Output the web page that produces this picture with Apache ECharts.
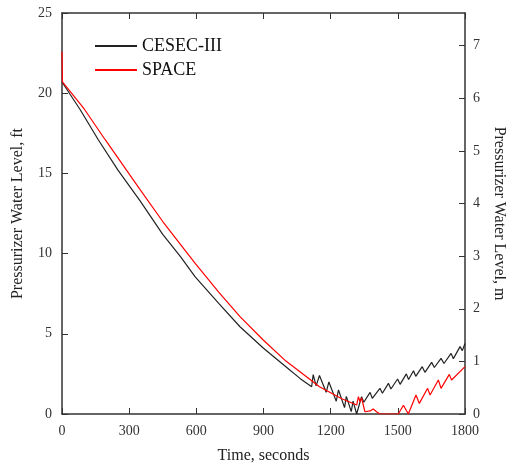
<!DOCTYPE html>
<html>
<head>
<meta charset="utf-8">
<script src="https://cdn.jsdelivr.net/npm/echarts@6/dist/echarts.min.js"></script>
<style>
  html, body { margin: 0; padding: 0; background: #fff; }
  #chart { width: 506px; height: 469px; }
</style>
</head>
<body>
<div id="chart"></div>
<script>
// CESEC-III : time (s) / level (ft)
var cesecTime = [0, 80, 162, 250, 348, 450, 530, 594, 700, 795, 900, 1000, 1063, 1115,
  1122, 1135, 1150, 1180, 1192, 1225, 1235, 1262, 1270, 1292, 1300, 1316,
  1338, 1348, 1376, 1386, 1420, 1431, 1458, 1469, 1499, 1510, 1538, 1548,
  1570, 1580, 1609, 1621, 1651, 1663, 1693, 1706, 1738, 1748, 1778, 1788, 1800];
var cesecLevel = [20.7, 19.0, 17.1, 15.2, 13.3, 11.2, 9.8, 8.56, 6.9, 5.44, 4.1, 2.95, 2.22, 1.7,
  2.45, 1.75, 2.4, 1.35, 2.0, 0.8, 1.5, 0.4, 1.1, 0.15, 0.8, 0.0,
  1.08, 0.73, 1.35, 0.98, 1.6, 1.29, 1.91, 1.56, 2.18, 1.85, 2.5, 2.15,
  2.7, 2.35, 2.95, 2.6, 3.22, 2.9, 3.47, 3.15, 3.78, 3.45, 4.2, 3.95, 4.4];

// SPACE : time (s) / level (ft)
var spaceTime = [0, 2, 100, 193, 348, 450, 594, 700, 795, 900, 1000, 1063, 1150, 1250, 1316,
  1324, 1331, 1338, 1353, 1376, 1390, 1405, 1420, 1502, 1525, 1547,
  1581, 1596, 1633, 1644, 1681, 1693, 1730, 1740, 1800];
var spaceLevel = [22.6, 20.7, 19.0, 17.1, 14.0, 12.0, 9.4, 7.6, 6.07, 4.6, 3.3, 2.64, 1.7, 0.95, 0.56,
  1.08, 0.75, 1.0, 0.14, 0.19, 0.31, 0.14, 0.0, 0.0, 0.55, 0.0,
  1.18, 0.66, 1.6, 1.18, 2.12, 1.6, 2.47, 2.12, 2.95];

function pairs(xs, ys) {
  var out = [];
  for (var i = 0; i < xs.length; i++) out.push([xs[i], ys[i]]);
  return out;
}

var serif = "'Liberation Serif', 'Times New Roman', serif";
var axisColor = '#333';
var plain = function (v) { return String(v); };

var chart = echarts.init(document.getElementById('chart'));
var option = {
  animation: false,
  textStyle: { fontFamily: serif },
  grid: { left: 62, right: 41, top: 13, bottom: 55, outerBoundsMode: 'none', containLabel: false },
  legend: {
    left: 90, top: 32, orient: 'vertical',
    itemWidth: 42, itemHeight: 2, itemGap: 6,
    icon: 'rect',
    textStyle: { fontFamily: serif, fontSize: 18, color: '#111' },
    data: ['CESEC-III', 'SPACE']
  },
  xAxis: [{
    type: 'value', min: 0, max: 1800, interval: 300, position: 'bottom',
    name: 'Time, seconds', nameLocation: 'middle', nameGap: 34,
    nameTextStyle: { fontFamily: serif, fontSize: 16, color: '#222' },
    axisLine: { onZero: false, lineStyle: { color: axisColor, width: 1.5 } },
    axisTick: { inside: true, length: 6, lineStyle: { color: axisColor } },
    axisLabel: { fontFamily: serif, fontSize: 14, color: '#333', margin: 10, formatter: plain },
    splitLine: { show: false }
  }, {
    type: 'value', min: 0, max: 1800, interval: 300, position: 'top',
    axisLine: { onZero: false, lineStyle: { color: axisColor, width: 1.5 } },
    axisTick: { inside: true, length: 6, lineStyle: { color: axisColor } },
    axisLabel: { show: false },
    splitLine: { show: false }
  }],
  yAxis: [{
    type: 'value', min: 0, max: 25, interval: 5, position: 'left',
    name: 'Pressurizer Water Level, ft', nameLocation: 'middle', nameGap: 36,
    nameTextStyle: { fontFamily: serif, fontSize: 16, color: '#222' },
    axisLine: { show: true, onZero: false, lineStyle: { color: axisColor, width: 1.5 } },
    axisTick: { show: true, inside: true, length: 6, lineStyle: { color: axisColor } },
    axisLabel: { fontFamily: serif, fontSize: 14, color: '#333', margin: 10, formatter: plain },
    splitLine: { show: false }
  }, {
    type: 'value', min: 0, max: 7.62, interval: 1, position: 'right',
    name: 'Pressurizer Water Level, m', nameLocation: 'middle', nameGap: 24, nameRotate: -90,
    nameTextStyle: { fontFamily: serif, fontSize: 16, color: '#222' },
    axisLine: { show: true, onZero: false, lineStyle: { color: axisColor, width: 1.5 } },
    axisTick: { show: true, inside: true, length: 6, lineStyle: { color: axisColor } },
    axisLabel: { fontFamily: serif, fontSize: 14, color: '#333', margin: 8, showMaxLabel: false, formatter: plain },
    splitLine: { show: false }
  }],
  series: [{
    name: 'CESEC-III', type: 'line', xAxisIndex: 0, yAxisIndex: 0,
    showSymbol: false, symbol: 'none',
    lineStyle: { color: '#222', width: 1.2 }, itemStyle: { color: '#222' },
    data: pairs(cesecTime, cesecLevel)
  }, {
    name: 'SPACE', type: 'line', xAxisIndex: 0, yAxisIndex: 0,
    showSymbol: false, symbol: 'none',
    lineStyle: { color: '#ff0000', width: 1.2 }, itemStyle: { color: '#ff0000' },
    data: pairs(spaceTime, spaceLevel)
  }]
};
chart.setOption(option);
</script>
</body>
</html>
